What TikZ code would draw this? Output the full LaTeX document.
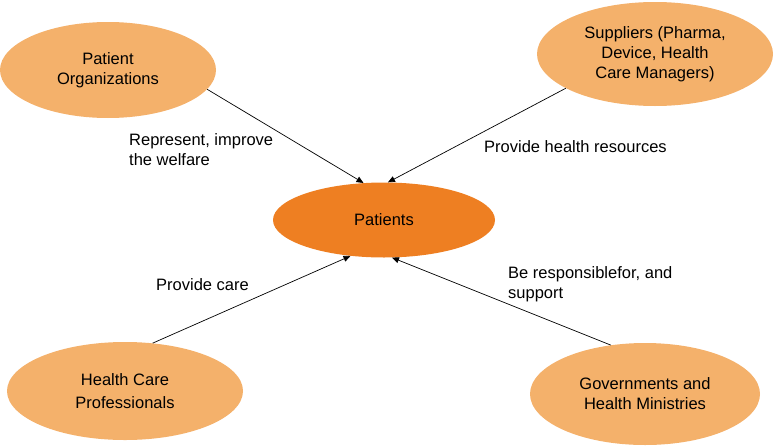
\documentclass[tikz,border=0pt]{standalone}
\usepackage{fontspec}
\setmainfont{Liberation Sans}
\usetikzlibrary{shapes.geometric,arrows.meta}
\definecolor{lightor}{HTML}{F4B16B}
\definecolor{darkor}{HTML}{EE7F22}
\begin{document}
\begin{tikzpicture}[x=1pt,y=-1pt,
  actor/.style={ellipse,fill=lightor,inner sep=0pt,align=center,
    font=\fontsize{16.5}{20}\selectfont},
  lbl/.style={inner sep=0pt,align=left,anchor=west,
    font=\fontsize{16.5}{20}\selectfont},
  link/.style={draw=black,line width=0.7pt,-{Triangle[length=7pt,width=6pt]}}]
\useasboundingbox (0,0) rectangle (775,447);
\node[actor,minimum width=216pt,minimum height=96pt] (po) at (108,70) {Patient\\Organizations};
\node[actor,minimum width=236pt,minimum height=104pt] (sup) at (655,54) {Suppliers (Pharma,\\Device, Health\\Care Managers)};
\node[actor,fill=darkor,minimum width=222pt,minimum height=75pt] (pat) at (384,220) {Patients};
\node[actor,minimum width=236pt,minimum height=98pt,font=\fontsize{16.5}{23}\selectfont] (hcp) at (125,391) {Health Care\\Professionals};
\node[actor,minimum width=230pt,minimum height=102pt] (gov) at (645,394) {Governments and\\Health Ministries};
\draw[link] (po.-11) -- (pat.119);
\draw[link] (sup.201) -- (pat.84);
\draw[link] (hcp.60) -- (pat.227);
\draw[link] (gov.125) -- (pat.-78);
\node[lbl] (l1) at (129,150) {Represent, improve\\the welfare};
\node[lbl] (l2) at (484,147) {Provide health resources};
\node[lbl] (l3) at (156,285) {Provide care};
\node[lbl] (l4) at (508,284) {Be responsiblefor, and\\support};
\end{tikzpicture}
\end{document}
